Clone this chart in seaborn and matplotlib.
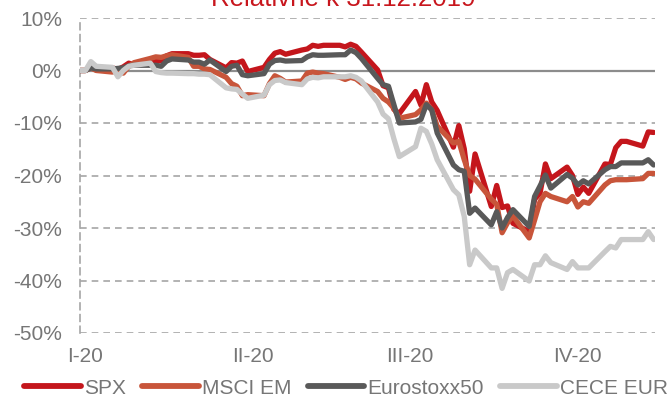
import matplotlib
matplotlib.use("Agg")
import matplotlib.pyplot as plt
import pandas as pd
import seaborn as sns

# ---------------- data ----------------
title = "Relativně k 31.12.2019"
series_names = ["SPX", "MSCI EM", "Eurostoxx50", "CECE EUR"]
start_date = "2019-12-31"
end_date = "2020-04-15"
tick_dates = ["2020-01-01", "2020-02-01", "2020-03-01", "2020-04-01"]
tick_labels = ["I-20", "II-20", "III-20", "IV-20"]
y_ticks = [-50, -40, -30, -20, -10, 0, 10]

spx = [0.0, 0.0, 0.8, 0.1,
       0.5, 0.2, 0.7, 1.4, 1.1,
       1.8, 1.7, 1.9, 2.8, 3.2,
       3.2, 2.9, 2.9, 3.0, 2.1,
       0.5, 1.5, 1.4, 1.8, -0.2,
       0.6, 2.1, 3.3, 3.6, 3.1,
       3.9, 4.1, 4.8, 4.6, 4.8,
       4.8, 4.5, 5.0, 4.6, 3.5,
       0.1, -2.9, -3.3, -7.4, -8.2,
       -4.0, -6.6, -2.7, -6.0, -7.6,
       -14.6, -10.5, -14.9, -23.0, -15.9,
       -25.9, -21.9, -26.1, -25.8, -29.1,
       -30.7, -24.5, -23.4, -17.8, -20.6,
       -18.4, -20.0, -23.6, -22.2, -23.4,
       -17.8, -17.9, -14.7, -13.5, -13.5,
       -14.4, -11.7, -11.8]

msci_em = [0.0, 0.0, 0.5, 0.0,
           -0.3, 0.2, -0.5, 0.8, 1.5,
           2.3, 2.6, 2.5, 2.8, 3.0,
           2.5, 0.8, 0.8, 0.3, 0.2,
           -1.3, -2.5, -3.0, -4.8, -4.6,
           -4.8, -2.5, -1.0, -1.5, -2.2,
           -2.0, -0.5, -0.3, -0.5, -0.6,
           -1.3, -1.7, -1.3, -1.6, -2.4,
           -4.0, -5.3, -6.0, -7.2, -9.1,
           -8.4, -7.5, -6.2, -7.5, -10.6,
           -13.8, -13.5, -17.0, -20.0, -20.7,
           -24.5, -25.5, -30.9, -29.0, -27.7,
           -31.9, -28.5, -25.0, -23.4, -24.0,
           -25.0, -24.0, -26.0, -25.0, -25.3,
           -21.8, -21.0, -20.8, -20.8, -20.8,
           -20.6, -19.6, -19.6]

eurostoxx50 = [0.0, 0.0, 0.5, 0.3,
               0.3, 0.4, 0.5, 0.9, 1.0,
               1.0, 1.0, 0.8, 1.8, 2.2,
               2.0, 1.6, 1.6, 1.2, 2.0,
               -0.2, 0.8, 1.0, -0.8, -1.0,
               -0.6, 1.2, 1.9, 2.0, 1.8,
               1.9, 2.6, 3.0, 2.9, 2.9,
               3.0, 3.0, 3.9, 3.4, 2.3,
               -1.5, -2.7, -3.0, -6.5, -10.0,
               -9.8, -9.3, -6.5, -7.5, -11.9,
               -18.0, -18.9, -19.2, -27.2, -26.2,
               -29.4, -26.9, -30.0, -28.0, -26.5,
               -29.7, -24.0, -22.0, -19.9, -22.4,
               -19.8, -20.5, -21.8, -21.0, -21.6,
               -18.9, -18.3, -18.3, -17.6, -17.6,
               -17.6, -17.0, -18.0]

cece_eur = [0.0, 0.0, 1.7, 0.8,
            0.6, -1.2, 0.0, 0.8, 1.0,
            1.4, -0.2, -0.4, -0.5, -0.5,
            -0.6, -0.6, -0.7, -0.7, -0.8,
            -3.3, -3.5, -3.6, -4.5, -5.3,
            -4.7, -2.7, -1.9, -1.8, -2.3,
            -2.7, -1.6, -1.3, -1.4, -1.2,
            -1.2, -1.2, -1.0, -1.3, -2.0,
            -6.0, -8.3, -9.2, -13.0, -16.4,
            -14.5, -11.0, -11.6, -14.0, -17.0,
            -22.7, -23.7, -27.8, -37.0, -34.2,
            -37.6, -37.6, -41.5, -38.5, -37.9,
            -40.1, -37.0, -37.0, -35.3, -36.6,
            -37.9, -36.4, -37.6, -37.6, -37.6,
            -34.5, -33.5, -33.8, -32.2, -32.2,
            -32.2, -30.7, -32.2]

colors = ["#C4161C", "#C8553A", "#595959", "#C9C9C9"]

# ---------------- frame ----------------
dates = pd.bdate_range(start_date, end_date)
wide = pd.DataFrame({"SPX": spx, "MSCI EM": msci_em,
                     "Eurostoxx50": eurostoxx50, "CECE EUR": cece_eur},
                    index=dates)
wide.index.name = "date"
long = wide.reset_index().melt(id_vars="date", var_name="series", value_name="value")

# ---------------- plot ----------------
sns.set_style("white")
plt.rcParams["font.family"] = ["Liberation Sans", "DejaVu Sans"]

fig = plt.figure(figsize=(6.72, 4.05), dpi=100)
ax = fig.add_axes([80 / 672, 1 - 333 / 405, (655 - 80) / 672, (333 - 18) / 405])

grid_c = "#A6A6A6"
ax.set_axisbelow(True)
ax.yaxis.grid(True, linestyle=(0, (4, 3)), color=grid_c, lw=1.2)
ax.axhline(0, color="#8C8C8C", lw=1.6, zorder=1)

sns.lineplot(data=long, x="date", y="value", hue="series",
             hue_order=series_names, palette=colors, estimator=None,
             lw=3.8, ax=ax, legend=True, zorder=3,
             solid_capstyle="round", solid_joinstyle="round")

handles, labels = ax.get_legend_handles_labels()
ax.get_legend().remove()
for h in handles:
    h.set_linewidth(4.2)
    h.set_solid_capstyle("round")

ax.set_ylim(-50, 10)
ax.set_yticks(y_ticks)
ax.set_yticklabels([f"{v}%" for v in y_ticks])
ax.set_xlim(pd.Timestamp(start_date), pd.Timestamp(end_date) + pd.Timedelta(hours=6))
ax.set_xticks(pd.to_datetime(tick_dates))
ax.set_xticklabels(tick_labels)
ax.set_xlabel("")
ax.set_ylabel("")

text_c = "#767676"
ax.tick_params(axis="both", length=0, labelsize=15, labelcolor=text_c)
ax.tick_params(axis="y", pad=13)
ax.tick_params(axis="x", pad=10)

for s in ["top", "right", "bottom"]:
    ax.spines[s].set_visible(False)
ax.spines["left"].set_linestyle((0, (4, 3)))
ax.spines["left"].set_color(grid_c)
ax.spines["left"].set_linewidth(1.2)

fig.text(343 / 672, 1 - 6.5 / 405, title, ha="center", va="baseline",
         color="#C8161D", fontsize=18.6)

leg = fig.legend(handles, labels, loc="center", bbox_to_anchor=(0.515, 1 - 388 / 405),
                 ncol=4, frameon=False, handlelength=2.7, handletextpad=0.15,
                 columnspacing=0.8, fontsize=15)
for t in leg.get_texts():
    t.set_color(text_c)

fig.savefig("out.png", dpi=100)
